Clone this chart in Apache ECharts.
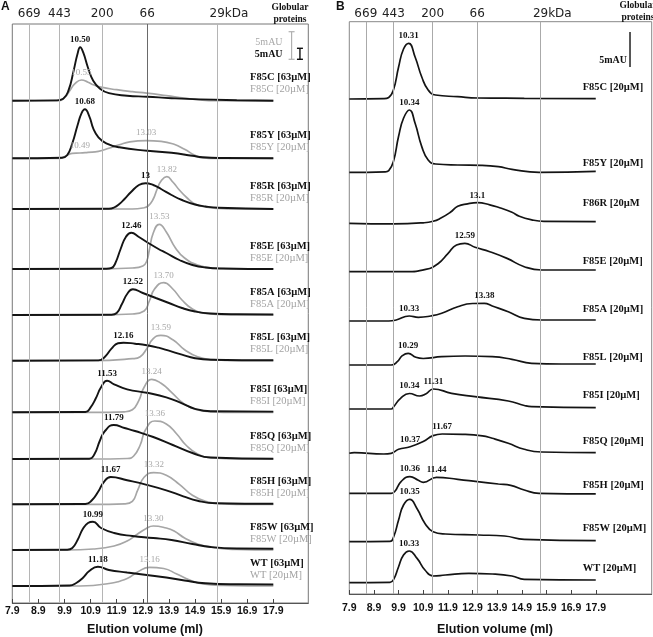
<!DOCTYPE html>
<html><head><meta charset="utf-8">
<script src="https://cdn.jsdelivr.net/npm/echarts@6/dist/echarts.min.js"></script>
<style>html,body{margin:0;padding:0;background:#fff}#c{width:653px;height:637px}</style>
</head><body><div id="c"></div>
<script>
// ================= DATA =================
// x tick labels (elution volume, ml) and calibration standards
const xTicks = [7.9, 8.9, 9.9, 10.9, 11.9, 12.9, 13.9, 14.9, 15.9, 16.9, 17.9];
const mwLabels = ['669', '443', '200', '66', '29kDa'];
const calibA = [8.55, 9.71, 11.34, 13.07, 15.74];
const calibB = [8.57, 9.69, 11.28, 13.09, 15.65];

// Panel A: trace names, peak labels
const namesA = ['F85C', 'F85Y', 'F85R', 'F85E', 'F85A', 'F85L', 'F85I', 'F85Q', 'F85H', 'F85W', 'WT'];
const peaksA63 = [['10.50'], ['10.68'], ['13'], ['12.46'], ['12.52'], ['12.16'], ['11.53'], ['11.79'], ['11.67'], ['10.99'], ['11.18']];
const peaksA20 = [['10.55'], ['10.49', '13.03'], ['13.82'], ['13.53'], ['13.70'], ['13.59'], ['13.24'], ['13.36'], ['13.32'], ['13.30'], ['13.16']];

// Panel A absorbance above baseline (relative units, as read) : [ml, A]
const a63_F85C = [[7.9,0],[9.6,0.3],[9.85,2],[10.05,10],[10.25,30],[10.4,47],[10.5,53.4],[10.62,48],[10.8,33],[11.0,20],[11.26,12],[11.6,7.5],[12.3,5],[13.07,4],[14.0,2.5],[15.1,1.3],[16.5,0.5],[17.9,0]];
const a63_F85Y = [[7.9,0],[9.8,0.5],[10.0,3],[10.2,15],[10.4,33],[10.55,45],[10.68,49],[10.85,42],[11.0,30],[11.2,21],[11.5,15],[12.0,11],[13.07,7.5],[14.0,5.5],[14.8,2.5],[15.2,1],[16.0,0.3],[17.9,0]];
const a63_F85R = [[7.9,0],[11.6,0.3],[11.8,1.5],[12.0,5],[12.2,10],[12.45,17],[12.75,24],[13,25.7],[13.3,24],[13.6,20],[14.0,14],[14.4,9],[14.9,4.5],[15.3,2.5],[15.8,1.2],[17.9,0]];
const a63_F85E = [[7.9,0],[11.5,0.3],[11.7,1],[11.85,6],[12.05,20],[12.25,32],[12.46,36.3],[12.75,32],[13.05,27],[13.5,20],[13.8,16],[14.3,9],[14.8,4],[15.3,1.5],[16.0,0.5],[17.9,0]];
const a63_F85A = [[7.9,0],[11.7,0.3],[11.9,2],[12.1,11],[12.3,21],[12.52,25.7],[12.9,22],[13.4,17],[13.9,12],[14.4,7],[14.9,3.5],[15.5,1.5],[16.5,0.7],[17.9,0.5]];
const a63_F85L = [[7.9,0],[11.2,0.3],[11.45,4],[11.7,12],[11.95,17.5],[12.16,18],[12.6,17],[13.05,15.5],[13.5,13],[13.9,10],[14.4,6],[14.9,2.5],[15.5,1],[17.9,0.5]];
const a63_F85I = [[7.9,0],[10.7,0.3],[10.9,5],[11.1,14],[11.3,25],[11.53,31.6],[11.8,28],[12.3,23],[13.05,19.5],[13.8,15],[14.4,9],[14.9,3.5],[15.5,1],[17.9,0.7]];
const a63_F85Q = [[7.9,0],[10.85,0.3],[11.05,5],[11.25,18],[11.45,28],[11.79,34],[12.2,31],[12.6,28],[13.3,22],[14.05,14],[14.8,6],[15.5,1.5],[17.9,0.3]];
const a63_F85H = [[7.9,0],[10.7,0.3],[10.95,4],[11.2,13],[11.4,22],[11.67,27.3],[12.3,24],[13.05,19.5],[13.8,14],[14.45,8],[15.0,3.5],[15.7,1],[17.9,0.5]];
const a63_F85W = [[7.9,0],[10.0,0.3],[10.2,2],[10.4,10],[10.6,21],[10.8,27],[10.99,28.3],[11.3,22],[11.8,17],[12.5,14],[13.3,12],[14.0,10],[14.8,6],[15.5,3],[16.5,1.5],[17.9,1.3]];
const a63_WT   = [[7.9,0],[10.1,0.5],[10.35,3],[10.6,8],[10.85,15],[11.18,19.3],[11.6,16],[12.3,13.5],[13.05,11],[13.8,8.5],[14.5,5.5],[15.3,2.7],[16.5,1.7],[17.9,1.5]];

const a20_F85C = [[7.9,0],[9.7,0],[9.9,3],[10.1,10],[10.3,17],[10.55,20.7],[10.8,18.5],[11.0,16],[11.3,13.5],[11.9,11],[12.5,9],[13.05,7.5],[13.8,5],[14.5,2.5],[15.1,0.7],[15.7,0],[17.9,0]];
const a20_F85Y = [[7.9,0],[9.7,0],[10.0,3],[10.2,5],[10.49,5.3],[10.8,6],[11.2,7],[11.6,10],[12.0,13.5],[12.4,16.5],[13.03,17.7],[13.6,17],[14.1,14],[14.5,9],[14.9,3],[15.2,0.5],[15.7,0],[17.9,0]];
const a20_F85R = [[7.9,0],[12.5,0],[12.9,1],[13.1,3],[13.3,10],[13.45,20],[13.6,28],[13.82,32.3],[14.05,27],[14.3,19],[14.6,11],[14.9,5],[15.3,2],[15.8,0.5],[16.5,0],[17.9,0]];
const a20_F85E = [[7.9,0],[11.0,0],[12.5,1],[12.9,3],[13.05,8],[13.15,19],[13.3,36],[13.53,44.7],[13.8,37],[14.15,21],[14.5,11],[15.0,4],[15.6,1],[16.5,0],[17.9,0]];
const a20_F85A = [[7.9,0],[11.0,0],[12.5,1],[12.95,4],[13.15,14],[13.35,26],[13.7,32.3],[14.05,26],[14.4,15],[14.8,6],[15.3,1.5],[16.0,0.3],[17.9,0]];
const a20_F85L = [[7.9,0],[11.0,0],[12.5,2],[12.8,4],[13.05,12],[13.3,22],[13.59,25.3],[14.05,21],[14.5,11],[15.0,4],[15.6,1],[16.5,0],[17.9,0]];
const a20_F85I = [[7.9,0],[11.0,0],[12.2,0.5],[12.5,2.5],[12.75,12],[12.95,25],[13.24,33],[13.6,29],[14.0,20],[14.45,9],[14.9,3],[15.5,0.5],[16.5,0],[17.9,0]];
const a20_F85Q = [[7.9,0],[11.0,0],[12.3,0.5],[12.55,3],[12.8,14],[13.0,29],[13.36,38],[13.8,35],[14.2,25],[14.55,14],[15.0,5],[15.6,1],[16.5,0],[17.9,0]];
const a20_F85H = [[7.9,0],[11.0,0],[12.2,0.5],[12.5,3],[12.7,14],[12.95,27],[13.32,31.7],[13.8,29],[14.3,20],[14.8,9],[15.3,3],[15.8,1],[16.5,0],[17.9,0]];
const a20_F85W = [[7.9,0],[10.0,0],[11.0,1],[11.8,4],[12.3,9],[12.7,16],[13.0,21],[13.3,24],[13.8,22],[14.1,19],[14.5,12],[15.0,6],[15.7,2],[16.5,0.5],[17.9,0]];
const a20_WT   = [[7.9,0],[10.5,0],[11.6,2.5],[12.3,7.5],[12.7,14],[13.16,18.7],[13.7,17.5],[14.2,12],[14.7,6],[15.2,2],[16.0,0.5],[17.9,0]];

// Panel B
const namesB = ['F85C [20µM]', 'F85Y [20µM]', 'F86R [20µM', 'F85E [20µM]', 'F85A [20µM]', 'F85L [20µM]', 'F85I [20µM]', 'F85Q [20µM]', 'F85H [20µM]', 'F85W [20µM]', 'WT [20µM]'];
const peaksB = [['10.31'], ['10.34'], ['13.1'], ['12.59'], ['10.33', '13.38'], ['10.29'], ['10.34', '11.31'], ['10.37', '11.67'], ['10.36', '11.44'], ['10.35'], ['10.33']];
const b_F85C = [[7.9,0],[9.3,0.3],[9.5,1.5],[9.69,9],[9.9,32],[10.1,50],[10.31,55.7],[10.57,42],[10.84,22],[11.1,9],[11.4,4],[12.3,2.3],[13.1,1],[15.0,0.7],[17.9,0.3]];
const b_F85Y = [[7.9,0],[9.35,0.5],[9.5,1.7],[9.69,10.7],[9.9,36],[10.1,54],[10.34,62.3],[10.57,49],[10.84,25.7],[11.1,12.3],[11.4,8.3],[12.3,7.3],[13.25,7],[13.95,5.7],[14.5,3],[15.6,0],[17.9,1]];
const b_F86R = [[7.9,0],[9.7,-0.5],[10.9,0.5],[11.3,2],[11.6,5],[12.0,11],[12.3,17],[12.7,19.5],[13.1,20.6],[13.6,18.5],[14.0,15.5],[14.5,11],[14.8,7],[15.3,3.5],[15.8,2],[17.9,1.7]];
const b_F85E = [[7.9,0],[10.2,0],[11.0,2.3],[11.5,8],[11.9,18],[12.25,26.7],[12.59,28.3],[13.0,24.5],[13.6,20],[14.3,13.3],[15.0,5],[15.7,1.7],[17.9,1.7]];
const b_F85A = [[7.9,0],[9.5,0],[9.8,1],[10.33,5],[10.7,3.7],[11.2,5],[11.65,7.7],[12.3,14.3],[12.9,17.5],[13.38,17.7],[13.7,15],[14.35,9.3],[15.0,2.7],[15.7,1],[17.9,1]];
const b_F85L = [[7.9,0],[9.6,0],[9.85,3.3],[10.05,9.3],[10.29,11.7],[10.6,7.7],[10.9,6.5],[11.65,8.3],[12.6,9],[13.7,8.3],[14.5,5.7],[15.3,1.7],[16.5,1],[17.9,1]];
const b_F85I = [[7.9,0],[9.6,0],[9.7,2.3],[9.98,10.7],[10.34,15.5],[10.75,13],[11.0,15],[11.31,20],[12.05,15.7],[13.0,12.3],[14.35,8],[15.0,3.5],[15.3,2.3],[17.9,1.3]];
const b_F85Q = [[7.9,0],[8.1,0.7],[9.3,-0.7],[9.6,0],[9.9,4],[10.37,6.5],[10.9,11.7],[11.3,17.7],[11.67,19.3],[12.5,19],[13.3,17.5],[13.7,15],[14.35,10],[15.0,4],[15.7,1.3],[17.9,0.7]];
const b_F85H = [[7.9,0],[9.6,0],[9.75,2],[10.0,11.7],[10.36,16.7],[10.7,13],[10.9,11],[11.44,16],[12.3,14],[13.1,11.7],[13.95,9.3],[14.45,8],[15.0,3.3],[15.6,0],[17.9,-0.5]];
const b_F85W = [[7.9,0],[9.55,0.3],[9.7,5],[9.9,21.7],[10.1,36.7],[10.35,42.3],[10.65,33],[10.97,18.3],[11.3,10],[11.8,7.7],[13.15,6.7],[14.2,5.7],[15.0,2.3],[17.9,1]];
const b_WT   = [[7.9,0],[9.55,0.3],[9.7,3.3],[9.9,16],[10.1,27.7],[10.33,31.7],[10.65,24.3],[10.97,12.7],[11.3,6.7],[11.8,7.7],[12.75,9.3],[13.7,8.7],[14.5,6.7],[15.0,3.3],[17.9,2.7]];

// scale-bar calibration: display units per mAU
const unitsPerMAU_A63 = 2.2, unitsPerMAU_A20 = 5.52, unitsPerMAU_B = 7.0;
const scaleMAU = 5;

// ================= LAYOUT =================
const A63 = [a63_F85C,a63_F85Y,a63_F85R,a63_F85E,a63_F85A,a63_F85L,a63_F85I,a63_F85Q,a63_F85H,a63_F85W,a63_WT];
const A20 = [a20_F85C,a20_F85Y,a20_F85R,a20_F85E,a20_F85A,a20_F85L,a20_F85I,a20_F85Q,a20_F85H,a20_F85W,a20_WT];
const BB  = [b_F85C,b_F85Y,b_F86R,b_F85E,b_F85A,b_F85L,b_F85I,b_F85Q,b_F85H,b_F85W,b_WT];
const baseA = [502.3,444.7,394,334,288,242.3,190.7,144,98.7,53,17];
const baseB = [495,421.7,370.7,322.3,273,229,185,140.7,100.7,52.3,11.3];
const labOffB = [11.7,9,20,10,12,7.3,13.3,11.7,8.3,13.3,14.3];
const LX_A = 17.01, LX_B = 17.37;

const SERIF = '"Liberation Serif","Times New Roman",serif';
const SANS = '"Liberation Sans",Arial,sans-serif';
const BLACK = '#141414', GRAY = '#a6a6a6';

function lift(pts, b) { return pts.map(p => [p[0], b + p[1]]); }
function peakMarks(pts, b, labels, style) {
  return labels.map(l => {
    const x = parseFloat(l);
    const p = pts.find(q => Math.abs(q[0] - x) < 1e-9);
    return { coord: [x, b + p[1]], symbolSize: 0,
      label: Object.assign({ show: true, position: 'top', distance: 3, formatter: l }, style) };
  });
}
function tag(x, y, text, style, pos) {
  return { coord: [x, y], symbolSize: 0,
    label: Object.assign({ show: true, position: pos || 'right', distance: 0, formatter: text }, style) };
}
function calibLines(calib, colors, dist) {
  return {
    silent: true, symbol: ['none', 'none'], animation: false,
    label: { show: true, position: 'end', distance: dist, fontFamily: '"DejaVu Sans",Verdana,sans-serif', fontSize: 12, color: '#222' },
    data: calib.map((v, i) => ({
      xAxis: v,
      lineStyle: { color: colors[i], width: 1, type: 'solid' },
      label: { formatter: mwLabels[i].indexOf('kDa') >= 0 ? '{p|}' + mwLabels[i] : mwLabels[i], rich: { p: { width: 24 } } }
    }))
  };
}

const series = [];
series.push({ type: 'line', xAxisIndex: 0, yAxisIndex: 0, data: [[7.9, 0]], symbol: 'none', lineStyle: { opacity: 0 }, z: 1,
  markLine: calibLines(calibA, ['#b5b5b5', '#b5b5b5', '#b5b5b5', '#6a6a6a', '#b5b5b5'], 4) });
series.push({ type: 'line', xAxisIndex: 1, yAxisIndex: 1, data: [[7.9, 0]], symbol: 'none', lineStyle: { opacity: 0 }, z: 1,
  markLine: calibLines(calibB, ['#aaa', '#aaa', '#aaa', '#aaa', '#aaa'], 2) });

const common = { type: 'line', symbol: 'none', smooth: 0.5, z: 3, animation: false };
const peakBlack = { fontFamily: SERIF, fontWeight: 'bold', fontSize: 9, color: '#111' };
const peakGray = { fontFamily: SERIF, fontSize: 9, color: '#a8a8a8' };
const tagBlack = { fontFamily: SERIF, fontWeight: 'bold', fontSize: 10.5, color: '#111' };
const tagGray = { fontFamily: SERIF, fontSize: 10.5, color: '#a3a3a3' };

for (let i = 0; i < namesA.length; i++) {
  const b = baseA[i];
  series.push(Object.assign({}, common, {
    name: namesA[i] + ' [20µM]', xAxisIndex: 0, yAxisIndex: 0,
    data: lift(A20[i], b), lineStyle: { color: GRAY, width: 1.7 },
    markPoint: { symbol: 'circle', symbolSize: 0, silent: true, animation: false,
      data: peakMarks(A20[i], b, peaksA20[i], peakGray).concat([tag(LX_A, b + 11, namesA[i] + ' [20µM]', tagGray)]) }
  }));
}
for (let i = 0; i < namesA.length; i++) {
  const b = baseA[i];
  series.push(Object.assign({}, common, {
    name: namesA[i] + ' [63µM]', xAxisIndex: 0, yAxisIndex: 0,
    data: lift(A63[i], b), lineStyle: { color: BLACK, width: 1.9 },
    markPoint: { symbol: 'circle', symbolSize: 0, silent: true, animation: false,
      data: peakMarks(A63[i], b, peaksA63[i], peakBlack).concat([tag(LX_A, b + 23, namesA[i] + ' [63µM]', tagBlack)]) }
  }));
}
for (let i = 0; i < namesB.length; i++) {
  const b = baseB[i];
  series.push(Object.assign({}, common, {
    name: 'B ' + namesB[i], xAxisIndex: 1, yAxisIndex: 1,
    data: lift(BB[i], b), lineStyle: { color: BLACK, width: 1.7 },
    markPoint: { symbol: 'circle', symbolSize: 0, silent: true, animation: false,
      data: peakMarks(BB[i], b, peaksB[i], peakBlack).concat([tag(LX_B, b + labOffB[i], namesB[i], tagBlack)]) }
  }));
}

// scale bars
const barA20x = 18.6, barA63x = 18.92, barAy = 543.7, barBx = 19.29, barBy = 527;
series.push({ type: 'line', xAxisIndex: 0, yAxisIndex: 0, z: 4, animation: false,
  data: [[barA20x, barAy], [barA20x, barAy + scaleMAU * unitsPerMAU_A20]],
  symbol: 'rect', symbolSize: [6, 1.2], itemStyle: { color: '#b0b0b0' }, lineStyle: { color: '#b0b0b0', width: 1.2 },
  markPoint: { symbol: 'circle', symbolSize: 0, silent: true, data: [
    tag(barA20x, 561, '5mAU', { fontFamily: SERIF, fontSize: 10, color: '#a8a8a8' }, 'left'),
    tag(barA20x, 549, '5mAU', { fontFamily: SERIF, fontWeight: 'bold', fontSize: 10, color: '#111' }, 'left')
  ].map(d => { d.label.distance = 9; return d; }) } });
series.push({ type: 'line', xAxisIndex: 0, yAxisIndex: 0, z: 4, animation: false,
  data: [[barA63x, barAy], [barA63x, barAy + scaleMAU * unitsPerMAU_A63]],
  symbol: 'rect', symbolSize: [6, 1.4], itemStyle: { color: '#111' }, lineStyle: { color: '#111', width: 1.4 } });
series.push({ type: 'line', xAxisIndex: 1, yAxisIndex: 1, z: 4, animation: false,
  data: [[barBx, barBy], [barBx, barBy + scaleMAU * unitsPerMAU_B]],
  symbol: 'none', lineStyle: { color: '#111', width: 1.4 },
  markPoint: { symbol: 'circle', symbolSize: 0, silent: true, data: [
    tag(barBx, 534, '5mAU', { fontFamily: SERIF, fontWeight: 'bold', fontSize: 10, color: '#111' }, 'left')
  ].map(d => { d.label.distance = 3; return d; }) } });

function xAxisCfg(gi, max, margin) {
  return {
    gridIndex: gi, type: 'value', min: 7.9, max: max,
    axisLine: { show: true, lineStyle: { color: '#555', width: 1 } },
    splitLine: { show: false },
    axisTick: { show: true, inside: true, length: 4, customValues: xTicks, lineStyle: { color: '#444' } },
    axisLabel: { customValues: xTicks, formatter: v => v.toFixed(1), fontFamily: SANS, fontWeight: 'bold', fontSize: 10.5, color: '#111', margin: margin }
  };
}

const option = {
  animation: false,
  backgroundColor: '#fff',
  grid: [
    { left: 12.3, top: 24, width: 296, height: 579, show: true, borderColor: '#777', borderWidth: 1, backgroundColor: 'transparent' },
    { left: 349.3, top: 21.7, width: 302.4, height: 572.3, show: true, borderColor: '#888', borderWidth: 1, backgroundColor: 'transparent' }
  ],
  xAxis: [ xAxisCfg(0, 19.24, 3), xAxisCfg(1, 20.17, 9) ],
  yAxis: [
    { gridIndex: 0, type: 'value', min: 0, max: 579, show: false },
    { gridIndex: 1, type: 'value', min: 0, max: 572.3, show: false }
  ],
  graphic: [
    { type: 'text', left: 1, top: 1, style: { text: 'A', font: 'bold 12px ' + SANS, fill: '#111' } },
    { type: 'text', left: 336, top: 1, style: { text: 'B', font: 'bold 12px ' + SANS, fill: '#111' } },
    { type: 'text', x: 290, y: 2, style: { text: 'Globular\nproteins', align: 'center', font: 'bold 9.5px ' + SERIF, lineHeight: 11.5, fill: '#111' } },
    { type: 'text', x: 638, y: 0, style: { text: 'Globular\nproteins', align: 'center', font: 'bold 9.5px ' + SERIF, lineHeight: 11.5, fill: '#111' } },
    { type: 'text', x: 145, y: 623, style: { text: 'Elution volume (ml)', align: 'center', font: 'bold 12.5px "Liberation Sans Narrow","Liberation Sans",Arial,sans-serif', fill: '#111' } },
    { type: 'text', x: 495, y: 623, style: { text: 'Elution volume (ml)', align: 'center', font: 'bold 12.5px "Liberation Sans Narrow","Liberation Sans",Arial,sans-serif', fill: '#111' } }
  ],
  series: series
};

const chart = echarts.init(document.getElementById('c'), null, { renderer: 'canvas' });
chart.setOption(option);
</script>
</body></html>
